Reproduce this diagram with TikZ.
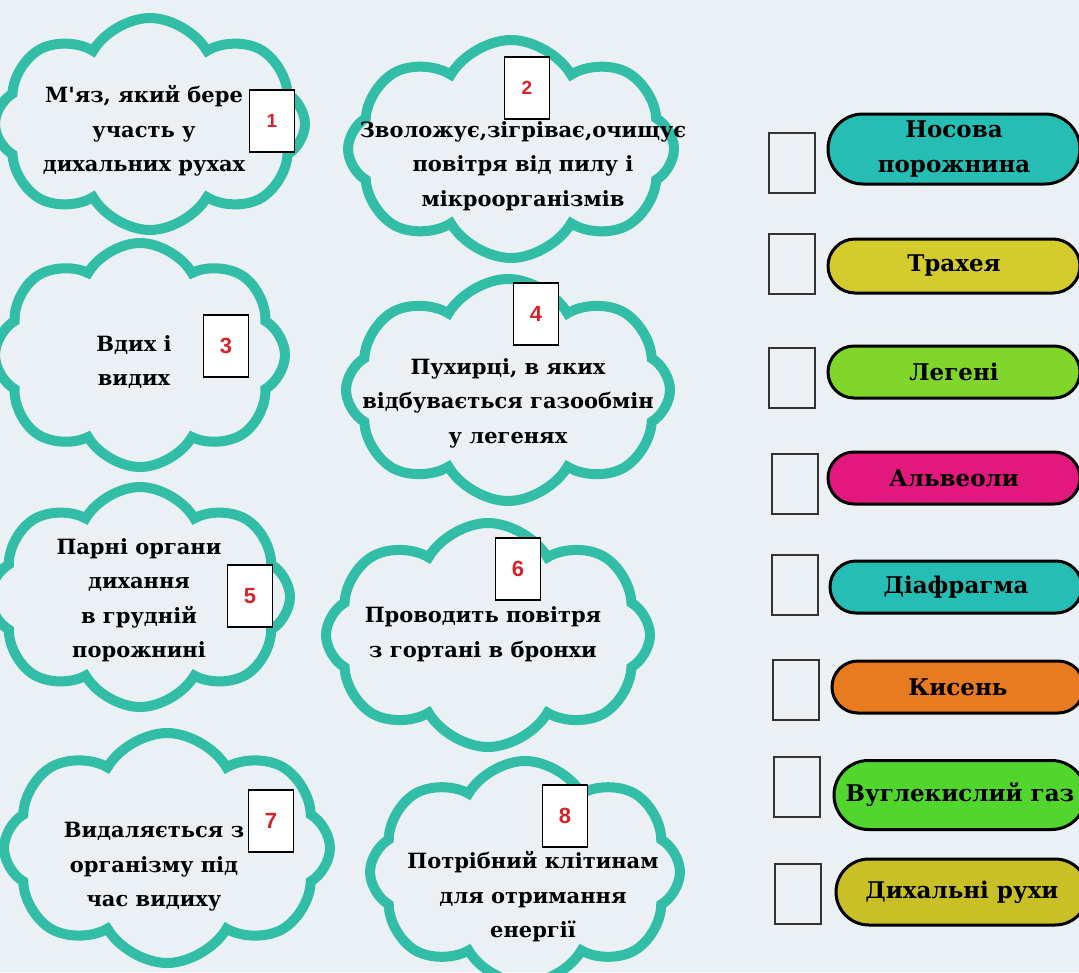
\documentclass[tikz,border=0pt]{standalone}
\usepackage{fontspec}
\setmainfont{DejaVu Serif}
\newfontfamily\numfont{Liberation Sans}
\usetikzlibrary{shapes.symbols,shapes.misc,positioning}
\definecolor{bgpaper}{RGB}{234,240,243}
\definecolor{cloudteal}{RGB}{50,190,166}
\definecolor{numred}{RGB}{214,35,42}
\definecolor{pillteal}{RGB}{38,190,180}
\definecolor{pillolive}{RGB}{212,204,44}
\definecolor{pilllime}{RGB}{128,214,42}
\definecolor{pillpink}{RGB}{226,24,126}
\definecolor{pillorange}{RGB}{232,122,32}
\definecolor{pillgreen}{RGB}{80,214,44}
\definecolor{pillmustard}{RGB}{200,192,38}
\tikzstyle{puff} = [cloud, cloud puffs=8, cloud puff arc=120, cloud ignores aspect, draw=cloudteal, line width=10pt]
\tikzstyle{task} = [align=center, font=\fontsize{21}{34.5}\selectfont\bfseries, text=black]
\tikzstyle{numbox} = [rectangle, draw=black, line width=1.2pt, fill=white, minimum width=45pt, minimum height=62pt, font=\numfont\fontsize{22}{22}\selectfont\bfseries, text=numred]
\tikzstyle{answer} = [rectangle, draw=black!80, line width=1.2pt, minimum width=46pt, minimum height=60pt]
\tikzstyle{pill} = [rounded rectangle, draw=black, line width=3pt, minimum width=252pt, inner xsep=0pt, font=\fontsize{23}{35}\selectfont\bfseries, align=center]

\begin{document}
\begin{tikzpicture}[x=1pt, y=-1pt]
\useasboundingbox (0,0) rectangle (1079,972);
\fill[bgpaper] (0,0) rectangle (1079,972);
\clip (0,0) rectangle (1079,972);

% Clouds with the questions
\node (c1) [puff, minimum width=310pt, minimum height=212pt] at (150,124) {};
\node (c2) [puff, minimum width=326pt, minimum height=218pt] at (511,149) {};
\node (c3) [puff, minimum width=290pt, minimum height=224pt] at (140,355) {};
\node (c4) [puff, minimum width=324pt, minimum height=222pt] at (508,390) {};
\node (c5) [puff, minimum width=300pt, minimum height=220pt] at (140,597) {};
\node (c6) [puff, minimum width=324pt, minimum height=224pt] at (488,635) {};
\node (c7) [puff, minimum width=326pt, minimum height=230pt] at (167,848) {};
\node (c8) [puff, minimum width=310pt, minimum height=222pt] at (525,872) {};

\node (t1) [task] at (144,131) {М\textquotesingle яз, який бере\\участь у\\дихальних рухах};
\node (t2) [task] at (523,166) {Зволожує,зігріває,очищує\\повітря від пилу і\\мікроорганізмів};
\node (t3) [task] at (134,362) {Вдих і\\видих};
\node (t4) [task] at (508,403) {Пухирці, в яких\\відбувається газообмін\\у легенях};
\node (t5) [task] at (139,600) {Парні органи\\дихання\\в грудній\\порожнині};
\node (t6) [task] at (483,634) {Проводить повітря\\з гортані в бронхи};
\node (t7) [task] at (154,867) {Видаляється з\\організму під\\час видиху};
\node (t8) [task] at (533,897) {Потрібний клітинам\\для отримання\\енергії};

% Numbers
\node (n1) [numbox, font=\numfont\fontsize{19}{19}\selectfont\bfseries] at (272,121) {1};
\node (n2) [numbox, font=\numfont\fontsize{19}{19}\selectfont\bfseries] at (527,88) {2};
\node (n3) [numbox] at (226,346) {3};
\node (n4) [numbox] at (536,314) {4};
\node (n5) [numbox] at (250,596) {5};
\node (n6) [numbox] at (518,569) {6};
\node (n7) [numbox] at (271,821) {7};
\node (n8) [numbox] at (565,816) {8};

% Answers
\node (b1) [answer] at (792,163) {};
\node (b2) [answer] at (792,264) {};
\node (b3) [answer] at (792,378) {};
\node (b4) [answer] at (795,484) {};
\node (b5) [answer] at (795,585) {};
\node (b6) [answer] at (796,690) {};
\node (b7) [answer] at (797,787) {};
\node (b8) [answer] at (798,894) {};

\node (p1) [pill, fill=pillteal, minimum height=70pt] at (954,149) {Носова\\порожнина};
\node (p2) [pill, fill=pillolive, minimum height=54pt] at (954,266) {Трахея};
\node (p3) [pill, fill=pilllime, minimum height=52pt] at (954,372) {Легені};
\node (p4) [pill, fill=pillpink, minimum height=52pt] at (954,478) {Альвеоли};
\node (p5) [pill, fill=pillteal, minimum height=52pt] at (956,587) {Діафрагма};
\node (p6) [pill, fill=pillorange, minimum height=52pt] at (958,687) {Кисень};
\node (p7) [pill, fill=pillgreen, minimum height=69pt] at (960,795) {Вуглекислий газ};
\node (p8) [pill, fill=pillmustard, minimum height=66pt] at (962,892) {Дихальні рухи};
\end{tikzpicture}
\end{document}
